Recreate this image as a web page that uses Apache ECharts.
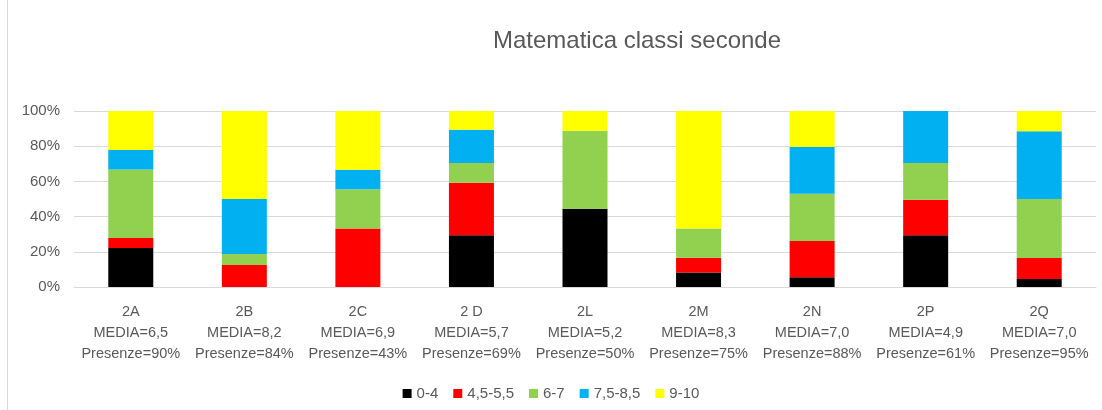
<!DOCTYPE html>
<html>
<head>
<meta charset="utf-8">
<script src="https://cdn.jsdelivr.net/npm/echarts@6/dist/echarts.min.js"></script>
<style>
  html, body { margin: 0; padding: 0; background: #fff; }
  #chart { width: 1102px; height: 410px; }
</style>
</head>
<body>
<div id="chart"></div>
<script>
// classi e etichette
const classi = ['2A', '2B', '2C', '2 D', '2L', '2M', '2N', '2P', '2Q']
const medie = ['6,5', '8,2', '6,9', '5,7', '5,2', '8,3', '7,0', '4,9', '7,0']
const presenze = ['90%', '84%', '43%', '69%', '50%', '75%', '88%', '61%', '95%']
const yTicks = [0, 20, 40, 60, 80, 100]

// percentuali per fascia di voto
const fascia04 = [22.2, 0, 0, 29.4, 44.4, 8.3, 5.5, 29.4, 4.5]
const fascia455 = [5.6, 12.5, 33.3, 29.8, 0, 8.3, 20.7, 20.2, 12]
const fascia67 = [38.9, 6.2, 22.2, 11.2, 44.4, 16.7, 26.8, 20.8, 33.5]
const fascia7585 = [11.1, 31.3, 11.1, 19, 0, 0, 26.6, 29.6, 38.5]
const fascia910 = [22.2, 50, 33.4, 10.6, 11.2, 66.7, 20.4, 0, 11.5]

const FONT = '"Liberation Sans", Arial, sans-serif'
const TXT = '#595959'

const chart = echarts.init(document.getElementById('chart'))

const makeSerie = (name, data, color) => ({
  name: name,
  type: 'bar',
  stack: 'tot',
  data: data,
  barWidth: 45,
  itemStyle: { color: color },
  emphasis: { disabled: true }
})

chart.setOption({
  backgroundColor: '#fff',
  animation: false,
  title: {
    text: 'Matematica classi seconde',
    left: 632,
    top: 24,
    textAlign: 'center',
    textStyle: { fontFamily: FONT, fontSize: 24, fontWeight: 'normal', color: TXT }
  },
  legend: {
    data: ['0-4', '4,5-5,5', '6-7', '7,5-8,5', '9-10'],
    left: 'center',
    top: 381,
    itemWidth: 9,
    itemHeight: 9,
    itemGap: 15,
    icon: 'rect',
    textStyle: { fontFamily: FONT, fontSize: 15, color: TXT }
  },
  graphic: [{
    type: 'rect',
    shape: { x: 7.5, y: -5, width: 1110, height: 430 },
    style: { fill: 'none', stroke: '#d9d9d9', lineWidth: 1 },
    silent: true
  }],
  grid: {
    left: 74,
    right: 6,
    top: 111,
    bottom: 123
  },
  xAxis: {
    type: 'category',
    data: classi,
    axisTick: { show: false },
    axisLine: { lineStyle: { color: '#d9d9d9', width: 1 } },
    axisLabel: {
      interval: 0,
      margin: 14,
      lineHeight: 21,
      fontFamily: FONT,
      fontSize: 14.5,
      color: TXT,
      formatter: (v, i) => v + '\nMEDIA=' + medie[i] + '\nPresenze=' + presenze[i]
    }
  },
  yAxis: {
    type: 'value',
    min: yTicks[0],
    max: yTicks[yTicks.length - 1],
    interval: 20,
    axisLine: { show: false },
    axisTick: { show: false },
    splitLine: { lineStyle: { color: '#d9d9d9', width: 1 } },
    axisLabel: {
      margin: 14,
      fontFamily: FONT,
      fontSize: 15,
      color: TXT,
      formatter: '{value}%'
    }
  },
  series: [
    makeSerie('0-4', fascia04, '#000000'),
    makeSerie('4,5-5,5', fascia455, '#ff0000'),
    makeSerie('6-7', fascia67, '#92d050'),
    makeSerie('7,5-8,5', fascia7585, '#00b0f0'),
    makeSerie('9-10', fascia910, '#ffff00')
  ]
})
</script>
</body>
</html>
